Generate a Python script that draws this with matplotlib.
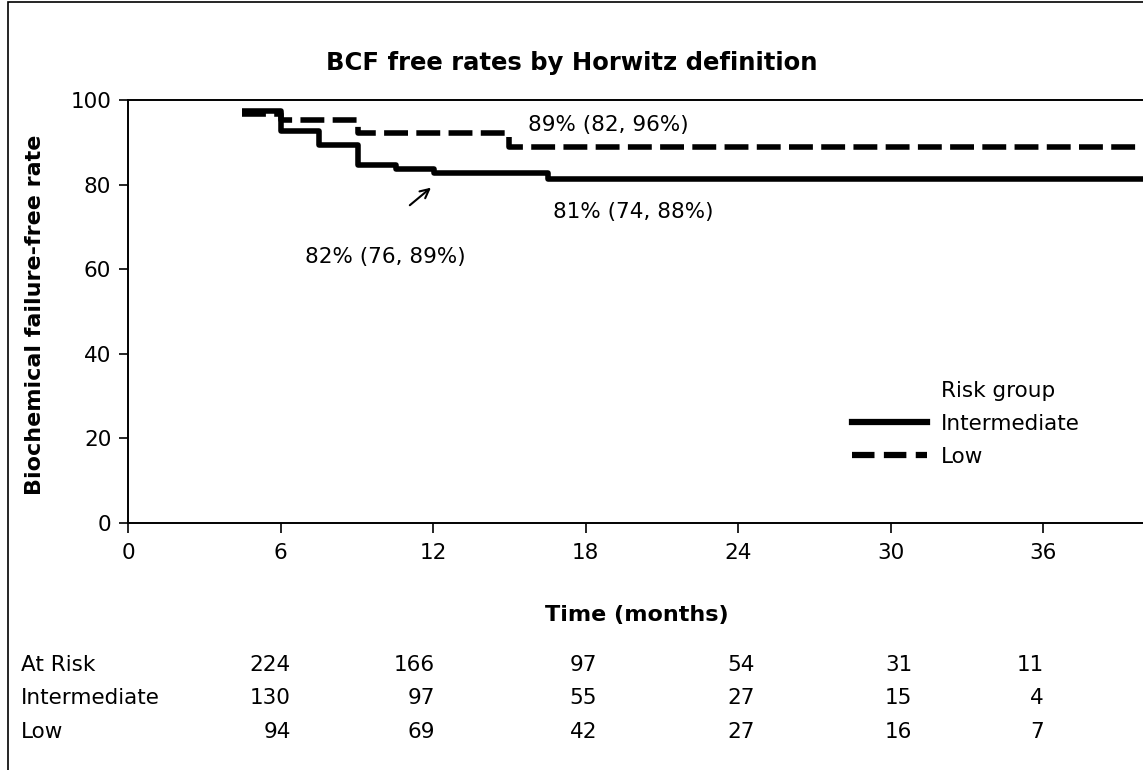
import matplotlib
matplotlib.use("Agg")
import matplotlib.pyplot as plt
import matplotlib.transforms as mtransforms
from matplotlib.lines import Line2D
from matplotlib.patches import Rectangle

plt.rcParams["font.family"] = ["DejaVu Sans"]

# ---------------------------------------------------------------- data
# Kaplan-Meier steps (months, % free of biochemical failure)
inter_t = [4.5, 6.0, 7.5, 9.05, 10.55, 12.05, 16.5, 40]
inter_s = [97.3, 92.7, 89.4, 84.6, 83.6, 82.7, 81.3, 81.3]
low_t = [4.5, 6.0, 9.05, 15.0, 40]
low_s = [96.8, 95.3, 92.3, 88.9, 88.9]

xticks = [0, 6, 12, 18, 24, 30, 36]
yticks = [0, 20, 40, 60, 80, 100]

risk_labels = ["At Risk", "Intermediate", "Low"]
risk_all = [224, 166, 97, 54, 31, 11]
risk_int = [130, 97, 55, 27, 15, 4]
risk_low = [94, 69, 42, 27, 16, 7]

ann_low = "89% (82, 96%)"
ann_int18 = "81% (74, 88%)"
ann_int12 = "82% (76, 89%)"

# ---------------------------------------------------------------- figure
W, H = 1143, 770
FS = 15.5
fig = plt.figure(figsize=(W / 100, H / 100), dpi=100)
ax = fig.add_axes([128 / W, 1 - 523 / H, 1017 / W, 423 / H])

# outer frame (right/bottom edges fall outside the picture)
fig.add_artist(Rectangle((8 / W, -0.2), 1.2, 1.2 - 1.5 / H + 0.0,
                         transform=fig.transFigure, fill=False,
                         ec="black", lw=1.2))

dash = (0, (4.3, 1.5))
ax.step(inter_t, inter_s, where="post", color="black", lw=4, solid_capstyle="butt")
ax.step(low_t, low_s, where="post", color="black", lw=4, ls=dash)

ax.set_xlim(0, 40)
ax.set_ylim(0, 100)
ax.set_xticks(xticks)
ax.set_yticks(yticks)
ax.spines["right"].set_visible(False)
for s in ("left", "bottom", "top"):
    ax.spines[s].set_linewidth(1.4)
ax.tick_params(axis="x", direction="out", length=7.5, width=1.2, pad=7, labelsize=FS)
ax.tick_params(axis="y", direction="out", length=6.5, width=1.2, pad=5.5, labelsize=FS)

ax.set_xlabel("Time (months)", fontsize=16, fontweight="bold", va="center")
ax.xaxis.set_label_coords(0.5, (523 - 615) / 423)
ax.set_ylabel("Biochemical failure-free rate", fontsize=16, fontweight="bold", va="center")
ax.yaxis.set_label_coords((35 - 128) / 1017, (523 - 315) / 423)

fig.suptitle("BCF free rates by Horwitz definition", x=0.5, y=1 - 63 / H,
             va="center", fontsize=17.5, fontweight="bold")

# estimates with 95% CI
ax.text(15.74, 94.1, ann_low, fontsize=FS, va="center", ha="left")
ax.text(16.72, 73.5, ann_int18, fontsize=FS, va="center", ha="left")
ax.text(6.96, 62.9, ann_int12, fontsize=FS, va="center", ha="left")
ax.annotate("", xy=(12.0, 79.7), xytext=(11.0, 74.7),
            arrowprops=dict(arrowstyle="->", color="black", lw=1.5, mutation_scale=16))

# legend
handles = [
    Line2D([], [], color="none", label="Risk group"),
    Line2D([], [], color="black", lw=4.5, label="Intermediate"),
    Line2D([], [], color="black", lw=4.5, ls=(0, (3.6, 1.5)), label="Low"),
]
ax.legend(handles=handles, loc="upper left", bbox_to_anchor=(852 / W, 1 - 381 / H),
          bbox_transform=fig.transFigure, frameon=False, fontsize=FS,
          borderpad=0, borderaxespad=0, handlelength=3.5, handletextpad=0.65,
          labelspacing=0.6)

# numbers at risk
col_x = [6.41, 12.08, 18.45, 24.67, 30.84, 36.03]
row_y = [1 - 665 / H, 1 - 698 / H, 1 - 732 / H]
tr = mtransforms.blended_transform_factory(ax.transData, fig.transFigure)
for lab, vals, y in zip(risk_labels, [risk_all, risk_int, risk_low], row_y):
    fig.text(21 / W, y, lab, fontsize=FS, va="center", ha="left")
    for x, v in zip(col_x, vals):
        ax.text(x, y, str(v), transform=tr, fontsize=FS, va="center", ha="right",
                clip_on=False)

fig.savefig("out.png", dpi=100)
